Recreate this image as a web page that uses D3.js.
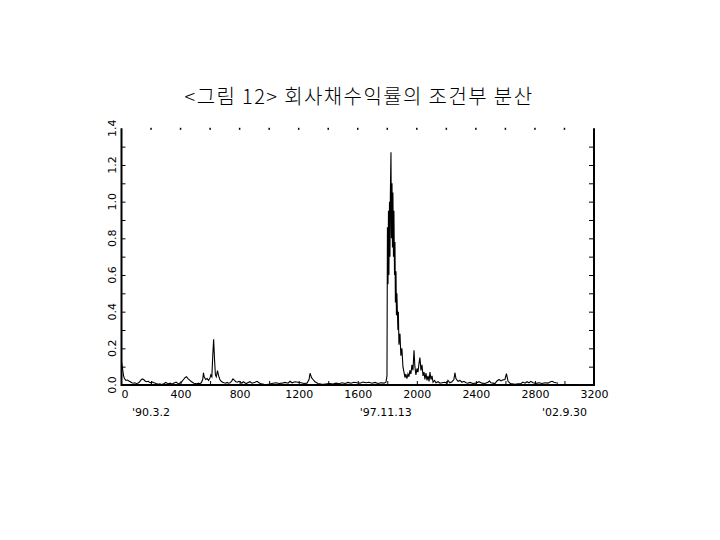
<!DOCTYPE html>
<html>
<head>
<meta charset="utf-8">
<script src="https://cdn.jsdelivr.net/npm/d3@7"></script>
<style>
  html, body { margin: 0; padding: 0; background: #fff; }
  svg { display: block; }
</style>
</head>
<body>
<svg id="chart" width="720" height="540"></svg>
<script>
const titleText = "<그림 12> 회사채수익률의 조건부 분산";
const xTickValues = [0, 400, 800, 1200, 1600, 2000, 2400, 2800, 3200];
const xMinorTicks = [200, 400, 600, 800, 1000, 1200, 1400, 1600, 1800, 2000, 2200, 2400, 2600, 2800, 3000];
const yTickValues = [0, 0.2, 0.4, 0.6, 0.8, 1.0, 1.2, 1.4];
const yMinorTicks = [0.1, 0.2, 0.3, 0.4, 0.5, 0.6, 0.7, 0.8, 0.9, 1.0, 1.1, 1.2, 1.3];
const dateLabels = [
  { day: 200, label: "'90.3.2" },
  { day: 1790, label: "'97.11.13" },
  { day: 3000, label: "'02.9.30" }
];
// [observation index, conditional variance]
const condVar = [
  [0,0.127],[7,0.09],[14,0.05],[20,0.035],[30,0.025],[40,0.027],[50,0.022],[60,0.018],[70,0.012],[80,0.01],
  [90,0.012],[100,0.008],[110,0.01],[120,0.015],[130,0.025],[140,0.033],[150,0.03],[160,0.022],[170,0.018],[180,0.02],
  [190,0.015],[200,0.012],[210,0.016],[220,0.012],[230,0.01],[240,0.006],[250,0.004],[260,0.006],[270,0.003],[280,0.005],
  [290,0.008],[300,0.014],[310,0.01],[320,0.007],[330,0.01],[340,0.006],[350,0.008],[360,0.012],[370,0.016],[380,0.01],
  [390,0.008],[400,0.012],[410,0.02],[420,0.03],[430,0.04],[440,0.045],[450,0.035],[460,0.028],[470,0.02],[480,0.015],
  [490,0.01],[500,0.008],[510,0.006],[520,0.01],[530,0.007],[540,0.012],[550,0.03],[555,0.067],[560,0.045],[570,0.03],
  [580,0.035],[590,0.025],[600,0.04],[605,0.055],[612,0.045],[618,0.16],[624,0.25],[630,0.14],[636,0.055],[642,0.045],
  [650,0.078],[658,0.05],[666,0.03],[675,0.02],[685,0.015],[695,0.012],[705,0.01],[715,0.014],[725,0.01],[735,0.012],
  [745,0.02],[755,0.033],[765,0.025],[775,0.018],[785,0.015],[795,0.02],[805,0.016],[815,0.01],[825,0.018],[835,0.012],
  [845,0.008],[855,0.012],[870,0.018],[884,0.01],[904,0.015],[918,0.02],[931,0.012],[945,0.006],[965,0.004],[985,0.003],
  [1006,0.005],[1026,0.01],[1046,0.012],[1067,0.008],[1087,0.01],[1107,0.014],[1128,0.01],[1141,0.02],[1155,0.012],[1175,0.018],
  [1195,0.015],[1216,0.012],[1236,0.008],[1256,0.01],[1270,0.03],[1277,0.064],[1287,0.04],[1297,0.03],[1310,0.018],[1331,0.008],
  [1351,0.005],[1371,0.004],[1392,0.006],[1412,0.008],[1432,0.005],[1453,0.01],[1473,0.007],[1493,0.012],[1514,0.008],[1534,0.014],
  [1554,0.01],[1574,0.015],[1595,0.012],[1615,0.01],[1635,0.016],[1656,0.012],[1676,0.015],[1696,0.01],[1717,0.014],[1737,0.008],
  [1757,0.012],[1778,0.01],[1791,0.015],[1798,0.05],[1801,0.86],[1805,0.55],[1808,0.95],[1811,0.6],[1815,1.0],[1818,0.7],
  [1821,1.05],[1825,1.27],[1828,0.8],[1832,1.1],[1835,0.75],[1838,1.05],[1842,0.7],[1845,0.95],[1849,0.6],[1852,0.78],
  [1855,0.45],[1859,0.62],[1862,0.38],[1865,0.5],[1872,0.3],[1875,0.4],[1879,0.22],[1886,0.28],[1892,0.16],[1899,0.2],
  [1906,0.1],[1913,0.07],[1920,0.04],[1926,0.06],[1933,0.035],[1940,0.06],[1947,0.045],[1953,0.08],[1960,0.06],[1967,0.11],
  [1974,0.08],[1981,0.19],[1987,0.1],[1994,0.055],[2001,0.09],[2008,0.07],[2015,0.12],[2021,0.15],[2028,0.08],[2035,0.11],
  [2042,0.05],[2049,0.07],[2055,0.03],[2062,0.065],[2069,0.025],[2076,0.05],[2083,0.02],[2089,0.07],[2096,0.03],[2103,0.05],
  [2110,0.015],[2120,0.025],[2130,0.012],[2144,0.018],[2157,0.01],[2170,0.012],[2191,0.015],[2204,0.01],[2211,0.025],[2224,0.012],
  [2238,0.018],[2251,0.03],[2258,0.067],[2265,0.035],[2279,0.02],[2292,0.025],[2306,0.015],[2319,0.02],[2333,0.012],[2346,0.01],
  [2360,0.014],[2380,0.008],[2400,0.01],[2421,0.018],[2441,0.01],[2461,0.008],[2482,0.015],[2492,0.022],[2502,0.012],[2516,0.01],
  [2529,0.008],[2543,0.022],[2557,0.03],[2570,0.022],[2584,0.028],[2597,0.03],[2607,0.062],[2618,0.02],[2631,0.01],[2645,0.006],
  [2665,0.004],[2685,0.006],[2706,0.008],[2719,0.016],[2733,0.01],[2746,0.018],[2760,0.012],[2773,0.02],[2787,0.012],[2807,0.009],
  [2828,0.012],[2848,0.008],[2868,0.012],[2889,0.01],[2902,0.016],[2916,0.02],[2929,0.015],[2943,0.012],[2957,0.01]
];

const plotLeft = 121.5, plotRight = 594, plotTop = 128.3, plotBottom = 385;
const svg = d3.select("#chart");
const x = d3.scaleLinear().domain([0, 3200]).range([plotLeft, plotRight]);
const y = d3.scaleLinear().domain([0, 1.4]).range([plotBottom, plotTop]);
const tickFont = "'DejaVu Sans', sans-serif";
const tickSize = 11;

// title
svg.append("text")
  .attr("x", 359).attr("y", 104)
  .attr("text-anchor", "middle")
  .attr("font-family", "'Noto Sans CJK KR', sans-serif")
  .attr("font-size", 20)
  .attr("font-weight", 300)
  .attr("letter-spacing", 1.4)
  .attr("fill", "#000")
  .text(titleText);

// data line
const line = d3.line().x(d => x(d[0])).y(d => y(d[1]));
svg.append("path")
  .datum(condVar)
  .attr("d", line)
  .attr("fill", "none")
  .attr("stroke", "#000")
  .attr("stroke-width", 1.1)
  .attr("stroke-linejoin", "miter");

// bottom axis labels
const bottomAxis = svg.append("g")
  .attr("transform", `translate(0,${plotBottom})`)
  .call(d3.axisBottom(x).tickValues(xTickValues).tickSize(0).tickPadding(5).tickFormat(d3.format("d")));
bottomAxis.select(".domain").remove();
bottomAxis.selectAll("text").attr("font-family", tickFont).attr("font-size", tickSize).attr("fill", "#000");
bottomAxis.selectAll("text").filter(d => d === 0).attr("dx", 3);

// bottom minor ticks (pointing up)
const bottomMinor = svg.append("g")
  .attr("transform", `translate(0,${plotBottom})`)
  .call(d3.axisBottom(x).tickValues(xMinorTicks).tickSize(-4).tickFormat(""));
bottomMinor.select(".domain").remove();
bottomMinor.selectAll("line").attr("stroke", "#000");

// top dots
svg.append("g").selectAll("rect")
  .data(xMinorTicks)
  .join("rect")
  .attr("x", d => x(d) - 0.75).attr("y", plotTop - 0.5)
  .attr("width", 1.5).attr("height", 2)
  .attr("fill", "#000");

// date labels
svg.append("g").selectAll("text")
  .data(dateLabels)
  .join("text")
  .attr("x", d => x(d.day)).attr("y", 416)
  .attr("text-anchor", "middle")
  .attr("font-family", tickFont).attr("font-size", tickSize)
  .attr("fill", "#000")
  .text(d => d.label);

// left minor ticks (pointing right)
const leftMinor = svg.append("g")
  .attr("transform", `translate(${plotLeft},0)`)
  .call(d3.axisLeft(y).tickValues(yMinorTicks).tickSize(-4).tickFormat(""));
leftMinor.select(".domain").remove();

// right ticks (pointing left)
const rightAxis = svg.append("g")
  .attr("transform", `translate(${plotRight},0)`)
  .call(d3.axisRight(y).tickValues(yMinorTicks).tickSize(-5).tickFormat(""));
rightAxis.select(".domain").remove();

// left rotated labels
svg.append("g").selectAll("text")
  .data(yTickValues)
  .join("text")
  .attr("transform", d => `translate(112,${y(d)}) rotate(-90)`)
  .attr("text-anchor", "middle")
  .attr("dominant-baseline", "central")
  .attr("font-family", tickFont).attr("font-size", tickSize)
  .attr("fill", "#000")
  .text(d => d3.format(".1f")(d));

// frame lines (left, bottom, right)
svg.append("line").attr("x1", plotLeft).attr("x2", plotLeft).attr("y1", plotTop).attr("y2", plotBottom + 1)
  .attr("stroke", "#000").attr("stroke-width", 2);
svg.append("line").attr("x1", plotLeft).attr("x2", plotRight).attr("y1", plotBottom).attr("y2", plotBottom)
  .attr("stroke", "#000").attr("stroke-width", 2);
svg.append("line").attr("x1", plotRight).attr("x2", plotRight).attr("y1", plotTop).attr("y2", plotBottom + 1)
  .attr("stroke", "#000").attr("stroke-width", 2);
</script>
</body>
</html>
